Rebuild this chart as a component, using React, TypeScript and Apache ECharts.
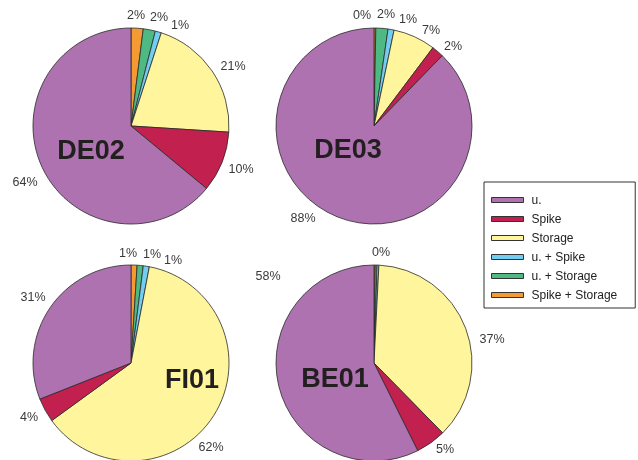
import React, { useEffect, useRef } from "react";
import * as echarts from "echarts";

const categories = ["Spike + Storage", "u. + Storage", "u. + Spike", "Storage", "Spike", "u."];
const legendOrder = ["u.", "Spike", "Storage", "u. + Spike", "u. + Storage", "Spike + Storage"];
const colors = ["#f39a33", "#4fb984", "#72cdf0", "#fff59d", "#c2214f", "#ae72b0"];

const sites = ["DE02", "DE03", "FI01", "BE01"];
const de02Values = [2, 2, 1, 21, 10, 64];
const de03Values = [0.3, 2, 1, 7, 2, 88];
const fi01Values = [1, 1, 1, 62, 4, 31];
const be01Values = [0.2, 0.3, 0.3, 37, 5, 57.6];
const be01LabelShown = [false, false, true, true, true, true];

const allValues = [de02Values, de03Values, fi01Values, be01Values];

// layout (positions are styling, not data)
const centers = [[131, 126], [374, 126], [131, 363], [374, 363]];
const titlePos = [[91, 150], [348, 149], [192, 379], [335, 378]];
const labelPos = [
  [[136, 15], [159, 17], [180, 25], [233, 66], [241, 169], [25, 182]],
  [[362, 15], [386, 14], [408, 19], [431, 30], [453, 46], [303, 218]],
  [[128, 253], [152, 254], [173, 260], [211, 447], [29, 417], [33, 297]],
  [[381, 252], [381, 252], [381, 252], [492, 339], [445, 449], [268, 276]],
];

export default function App() {
  const ref = useRef<HTMLDivElement>(null);
  useEffect(() => {
    const chart = echarts.init(ref.current!, null, { renderer: "svg" });
    const series = allValues.map((vals, si) => ({
      type: "pie",
      center: centers[si],
      radius: 98,
      startAngle: 90,
      clockwise: true,
      avoidLabelOverlap: false,
      emphasis: { disabled: true },
      itemStyle: { borderColor: "#2a2a2a", borderWidth: 0.8 },
      label: {
        show: true,
        position: "outside",
        color: "#3a3a3a",
        fontSize: 12.5,
        fontFamily: "Liberation Sans, Arial, sans-serif",
        formatter: (p: any) => Math.round(p.value) + "%",
      },
      labelLine: { show: false, length: 8, length2: 0 },
      labelLayout: (p: any) => {
        const pos = labelPos[p.seriesIndex][p.dataIndex];
        return { x: pos[0], y: pos[1], align: "center", verticalAlign: "middle", hideOverlap: false };
      },
      data: vals.map((v, i) => ({
        name: categories[i],
        value: v,
        itemStyle: { color: colors[i] },
        label: si === 3 ? { show: be01LabelShown[i] } : undefined,
      })),
    }));
    chart.setOption({
      animation: false,
      legend: {
        data: legendOrder,
        orient: "vertical",
        left: 484,
        top: 182,
        padding: [11, 18, 6, 7],
        borderColor: "#333",
        borderWidth: 1,
        borderRadius: 0,
        icon: "rect",
        itemWidth: 32,
        itemHeight: 5,
        itemGap: 5,
        selectedMode: false,
        itemStyle: { borderColor: "#333", borderWidth: 1 },
        textStyle: {
          fontSize: 12,
          color: "#222",
          lineHeight: 14,
          padding: [0, 0, 0, 3],
          fontFamily: "Liberation Sans, Arial, sans-serif",
        },
      },
      graphic: sites.map((s, i) => ({
        type: "text",
        x: titlePos[i][0],
        y: titlePos[i][1],
        z: 100,
        style: {
          text: s,
          fill: "#231f20",
          font: "bold 27px 'Liberation Sans', Arial, sans-serif",
          textAlign: "center",
          textVerticalAlign: "middle",
        },
      })),
      series,
    });
    return () => chart.dispose();
  }, []);
  return <div ref={ref} style={{ position: "fixed", left: 0, top: 0, width: 638, height: 460 }} />;
}
